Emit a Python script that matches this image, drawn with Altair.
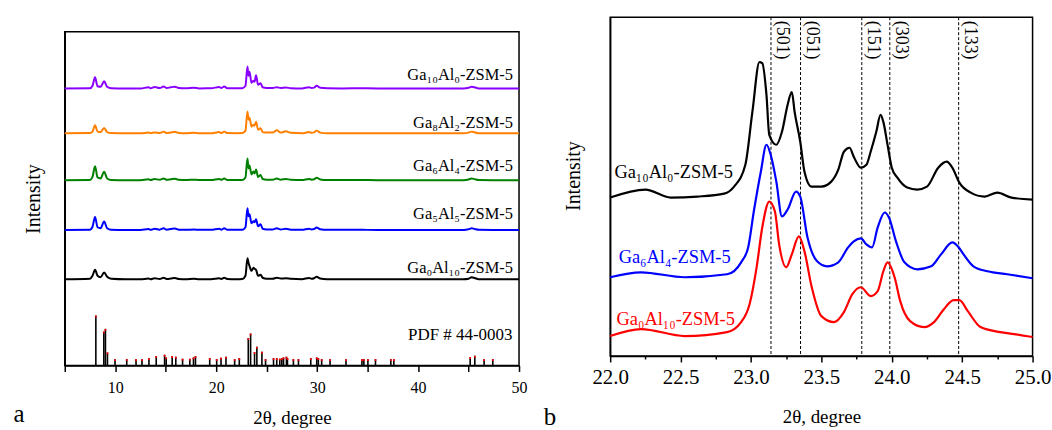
import altair as alt
import pandas as pd

FONT = "Liberation Serif"

# ---------------- panel a : full patterns ----------------
two_theta_a = [5.0, 7.5, 7.75, 8.0, 8.25, 8.55, 8.9, 9.2, 9.6, 11.0,
               12.5, 13.3, 13.5, 13.9, 14.4, 14.8, 15.1, 15.5, 15.9, 16.3,
               17.0, 17.8, 18.3, 19.5, 20.3, 20.5, 20.8, 21.1, 22.0, 22.6,
               22.9, 23.1, 23.2, 23.3, 23.5, 23.7, 23.8, 23.95, 24.15, 24.4,
               24.6, 25.0, 25.6, 26.0, 26.4, 26.9, 27.4, 28.5, 29.2, 29.45,
               29.7, 29.95, 30.3, 31.0, 32.5, 34.5, 36.0, 38.0, 41.0, 44.5,
               45.0, 45.3, 45.6, 46.0, 47.5, 50.0]

int_ga10al0 = [0.3, 0.5, 3.0, 11.5, 2.5, 2.0, 7.5, 2.0, 0.5, 0.3,
               0.3, 1.5, 0.5, 1.8, 0.8, 2.2, 0.8, 1.5, 2.0, 0.8,
               0.5, 1.0, 0.4, 0.5, 1.8, 0.8, 2.2, 0.6, 0.5, 0.6,
               3.0, 22.3, 13.0, 17.0, 6.0, 8.0, 7.0, 13.5, 4.0, 5.5,
               1.5, 0.8, 0.8, 1.5, 0.8, 1.2, 0.6, 0.4, 1.5, 0.8,
               1.2, 3.0, 1.0, 0.5, 0.4, 0.5, 0.4, 0.3, 0.3, 0.3,
               1.0, 2.0, 1.5, 0.4, 0.3, 0.3]
int_ga8al2 = [0.3, 0.5, 2.0, 8.3, 2.0, 1.5, 5.7, 1.5, 0.5, 0.3,
              0.3, 1.0, 0.4, 1.2, 0.6, 2.0, 0.6, 1.2, 1.8, 0.6,
              0.4, 0.8, 0.4, 0.4, 1.5, 0.6, 2.0, 0.5, 0.4, 0.5,
              3.0, 22.3, 14.0, 16.0, 7.0, 9.0, 8.0, 12.0, 4.0, 5.5,
              1.5, 1.0, 1.0, 3.3, 1.0, 2.3, 0.8, 0.4, 1.5, 0.8,
              1.2, 3.0, 1.0, 0.4, 0.4, 0.4, 0.3, 0.3, 0.3, 0.3,
              1.0, 2.0, 1.3, 0.4, 0.3, 0.3]
int_ga6al4 = [0.3, 0.5, 3.5, 14.3, 3.0, 2.0, 8.7, 2.0, 0.5, 0.3,
              0.3, 1.2, 0.4, 1.5, 0.6, 2.0, 0.6, 1.2, 1.8, 0.6,
              0.4, 0.8, 0.4, 0.4, 1.5, 0.6, 2.0, 0.5, 0.4, 0.5,
              3.0, 22.0, 12.0, 15.0, 6.0, 9.0, 7.0, 11.0, 3.5, 5.5,
              1.5, 0.8, 0.8, 2.0, 0.8, 1.5, 0.6, 0.4, 1.5, 0.8,
              1.2, 2.8, 1.0, 0.4, 0.4, 0.4, 0.3, 0.3, 0.3, 0.3,
              1.0, 2.0, 1.3, 0.4, 0.3, 0.3]
int_ga5al5 = [0.3, 0.5, 3.5, 13.3, 3.0, 2.0, 8.7, 2.0, 0.5, 0.3,
              0.3, 1.2, 0.4, 1.5, 0.6, 2.0, 0.6, 1.2, 1.8, 0.6,
              0.4, 0.8, 0.4, 0.4, 1.5, 0.6, 2.0, 0.5, 0.4, 0.5,
              3.0, 22.0, 14.0, 16.0, 7.0, 9.0, 8.0, 11.0, 4.0, 6.0,
              1.5, 0.8, 0.8, 2.0, 0.8, 1.5, 0.6, 0.4, 1.5, 0.8,
              1.2, 2.8, 1.0, 0.4, 0.4, 0.4, 0.3, 0.3, 0.3, 0.3,
              1.0, 2.0, 1.3, 0.4, 0.3, 0.3]
int_ga0al10 = [0.5, 1.0, 4.0, 10.0, 4.0, 2.5, 7.3, 3.0, 1.0, 0.5,
               0.5, 1.2, 0.6, 1.5, 0.8, 2.0, 0.8, 1.2, 1.8, 0.8,
               0.6, 1.0, 0.6, 0.6, 1.5, 0.8, 2.0, 0.8, 0.6, 0.8,
               4.0, 21.7, 17.0, 14.0, 9.0, 12.0, 11.0, 10.0, 4.0, 5.0,
               2.0, 1.0, 1.0, 2.0, 1.2, 1.5, 1.0, 0.6, 1.8, 1.0,
               1.5, 3.0, 1.2, 0.6, 0.5, 0.6, 0.5, 0.5, 0.5, 0.5,
               1.0, 2.5, 1.8, 0.6, 0.5, 0.5]

names_a = ["Ga₁₀Al₀-ZSM-5", "Ga₈Al₂-ZSM-5", "Ga₆Al₄-ZSM-5", "Ga₅Al₅-ZSM-5", "Ga₀Al₁₀-ZSM-5"]
series_a = [int_ga10al0, int_ga8al2, int_ga6al4, int_ga5al5, int_ga0al10]
offsets_a = [277.7, 232.7, 185.7, 135.7, 86.0]
label_y_a = [286.7, 238.3, 195.0, 146.7, 92.7]
colors_a = ["#8a00ff", "#ff8000", "#008000", "#0000ff", "#000000"]

pdf_2theta = [8.08, 8.87, 9.03, 9.23, 9.98, 11.14, 12.06, 12.65, 13.34, 14.06,
              14.89, 15.05, 15.64, 16.0, 16.67, 17.39, 17.75, 17.95, 19.36, 20.05,
              20.48, 20.97, 21.83, 22.29, 23.18, 23.41, 23.8, 24.03, 24.53, 24.89,
              25.68, 26.0, 26.3, 26.5, 26.67, 26.96, 27.06, 27.65, 28.15, 29.37,
              29.96, 30.12, 30.45, 31.28, 32.86, 34.44, 34.63, 35.03, 35.78, 37.3,
              37.6, 45.16, 45.62, 46.54, 47.4]
pdf_int = [50, 34, 36.7, 13, 6.3, 6.3, 6.3, 6.3, 7.3, 9.3,
           10.7, 8, 9.3, 8.7, 6.7, 6.7, 8, 9.3, 7.3, 6.3,
           7.7, 8.7, 6.3, 7.3, 27.3, 32, 13.3, 18.7, 13.7, 6.3,
           7.3, 7.3, 6.7, 7.3, 8, 8.7, 7.3, 6.3, 6.3, 7.3,
           8, 7.3, 6.3, 6.3, 6.3, 6.3, 6.3, 6.3, 6.3, 6.3,
           6.3, 8.3, 9.7, 6.3, 6.3]
pdf_label = "PDF # 44-0003"

# ---------------- panel b : 22-25 degree zoom ----------------
b_x_ga10al0 = [22.0, 22.25, 22.43, 22.62, 22.81, 22.88, 22.96, 23.01, 23.06, 23.08,
               23.11, 23.13, 23.18, 23.22, 23.26, 23.29, 23.31, 23.35, 23.38, 23.43,
               23.50, 23.57, 23.62, 23.66, 23.70, 23.73, 23.78, 23.82, 23.85, 23.89,
               23.92, 23.94, 23.97, 24.00, 24.04, 24.11, 24.18, 24.25, 24.33, 24.39,
               24.43, 24.48, 24.56, 24.66, 24.75, 24.85, 25.0]
b_y_ga10al0 = [159, 167, 159, 160, 163, 170, 192, 245, 295, 294,
               262, 222, 212, 225, 252, 265, 245, 215, 185, 170,
               170, 175, 187, 205, 209, 200, 189, 192, 205, 225,
               242, 235, 212, 189, 179, 169, 167, 170, 189, 195,
               189, 174, 164, 160, 164, 159, 157]
b_x_ga6al4 = [22.0, 22.22, 22.53, 22.83, 22.93, 22.98, 23.02, 23.07, 23.11, 23.14,
              23.18, 23.22, 23.26, 23.32, 23.35, 23.40, 23.47, 23.54, 23.62, 23.69,
              23.73, 23.78, 23.82, 23.86, 23.90, 23.95, 23.98, 24.03, 24.09, 24.18,
              24.28, 24.35, 24.43, 24.47, 24.51, 24.58, 24.68, 24.82, 25.0]
b_y_ga6al4 = [79, 84, 79, 82, 94, 109, 145, 185, 212, 202,
              175, 140, 147, 165, 160, 120, 95, 90, 94, 109,
              115, 118, 112, 109, 129, 144, 139, 115, 94, 87,
              90, 102, 114, 110, 102, 90, 85, 82, 78]
b_x_ga0al10 = [22.0, 22.22, 22.53, 22.83, 22.93, 22.99, 23.04, 23.08, 23.13, 23.17,
               23.20, 23.25, 23.29, 23.34, 23.38, 23.43, 23.50, 23.59, 23.66, 23.72,
               23.78, 23.85, 23.90, 23.94, 23.97, 24.02, 24.06, 24.13, 24.23, 24.30,
               24.37, 24.44, 24.48, 24.54, 24.63, 24.77, 24.87, 25.0]
b_y_ga0al10 = [20, 27, 20, 24, 34, 52, 89, 129, 155, 145,
               112, 89, 102, 120, 105, 70, 40, 34, 44, 62,
               69, 60, 65, 85, 94, 79, 55, 35, 29, 34,
               47, 56, 56, 45, 29, 24, 22, 19]

names_b = ["Ga₁₀Al₀-ZSM-5 ", "Ga₆Al₄-ZSM-5 ", "Ga₀Al₁₀-ZSM-5 "]
colors_b = ["#000000", "#0000ff", "#ff0000"]
label_x_b = [22.03, 22.06, 22.045]
label_y_b = [178.5, 93.5, 31.5]

hkl_pos = [23.142, 23.352, 23.787, 23.986, 24.475]
hkl_text = ["(501)", "(051)", "(151)", "(303)", "(133)"]
hkl_label_y = 336.5

# ---------------- build tables ----------------
rows = []
for name, ys, off in zip(names_a, series_a, offsets_a):
    for x, y in zip(two_theta_a, ys):
        rows.append({"x": x, "y": y + off, "sa": name})
df_a = pd.DataFrame(rows)
df_sticks = pd.DataFrame({"x": pdf_2theta, "y": [0] * len(pdf_2theta), "y2": pdf_int})
df_tips = pd.DataFrame({"x": pdf_2theta, "y": [v - 1.8 for v in pdf_int], "y2": pdf_int})
df_lab_a = pd.DataFrame({"x": [49.4] * len(names_a), "y": label_y_a, "t": names_a})
df_pdf = pd.DataFrame({"x": [49.35], "y": [25.7], "t": [pdf_label]})

rows = []
for name, xs, ys in zip(names_b, [b_x_ga10al0, b_x_ga6al4, b_x_ga0al10],
                        [b_y_ga10al0, b_y_ga6al4, b_y_ga0al10]):
    for x, y in zip(xs, ys):
        rows.append({"x": x, "y": y, "sb": name})
df_b = pd.DataFrame(rows)
df_lab_b = pd.DataFrame({"x": label_x_b, "y": label_y_b, "sb": names_b})
df_hkl = pd.DataFrame({"x": hkl_pos, "y": [hkl_label_y] * len(hkl_pos), "t": hkl_text})

# ---------------- panel a ----------------
WA, HA = 456, 335
xa = alt.X("x:Q", scale=alt.Scale(domain=[5, 50], nice=False, zero=False),
           axis=alt.Axis(title="2θ, degree", values=list(range(5, 51, 5)),
                         labelExpr="datum.value % 10 == 0 ? datum.label : ''",
                         labelFlush=False, tickSize=6, labelPadding=8,
                         labelFontSize=16, titleFontSize=19, titlePadding=13))
ya = alt.Y("y:Q", scale=alt.Scale(domain=[0, HA], nice=False),
           axis=alt.Axis(title="Intensity", labels=False, ticks=False,
                         titleFontSize=20, titlePadding=21))

lines_a = alt.Chart(df_a).mark_line(strokeWidth=2, interpolate="monotone").encode(
    x=xa, y=ya,
    color=alt.Color("sa:N", scale=alt.Scale(domain=names_a, range=colors_a), legend=None),
    detail="sa:N")
sticks = alt.Chart(df_sticks).mark_rule(color="black", strokeWidth=1.6).encode(
    x=xa, y=ya, y2="y2:Q")
tips = alt.Chart(df_tips).mark_rule(color="#ff0000", strokeWidth=1.8).encode(
    x=xa, y=ya, y2="y2:Q")
labels_a = alt.Chart(df_lab_a).mark_text(font=FONT, fontSize=16.5, align="right",
                                         baseline="alphabetic", color="black").encode(
    x=xa, y=ya, text="t:N")
pdf_txt = alt.Chart(df_pdf).mark_text(font=FONT, fontSize=17, align="right",
                                      baseline="alphabetic", color="black").encode(
    x=xa, y=ya, text="t:N")
tag_a = alt.Chart(df_pdf).mark_text(text="a", font=FONT, fontSize=25, align="left",
                                    baseline="alphabetic", color="black").encode(
    x=alt.value(-51.5), y=alt.value(392))

panel_a = alt.layer(lines_a, sticks, tips, labels_a, pdf_txt, tag_a).properties(
    width=WA, height=HA)

# invisible spacer that pushes panel a down relative to panel b
spacer = alt.Chart(df_pdf).mark_point(opacity=0).encode(
    x=alt.value(0), y=alt.value(0)).properties(
    width=1, height=1, view=alt.ViewBackground(stroke="transparent"))

left = alt.vconcat(spacer, panel_a, spacing=9.5)

# ---------------- panel b ----------------
WB, HB = 424, 340
xb = alt.X("x:Q", scale=alt.Scale(domain=[22, 25], nice=False, zero=False),
           axis=alt.Axis(title="2θ, degree", values=[22 + 0.25 * i for i in range(13)],
                         labelExpr="round(datum.value * 2) == datum.value * 2 ? format(datum.value, '.1f') : ''",
                         tickSize={"condition": {"test": "round(datum.value * 2) == datum.value * 2", "value": 6}, "value": 3},
                         labelFlush=False, labelPadding=5,
                         labelFontSize=21, titleFontSize=19, titlePadding=20))
yb = alt.Y("y:Q", scale=alt.Scale(domain=[0, HB], nice=False),
           axis=alt.Axis(title="Intensity", labels=False, ticks=False,
                         titleFontSize=20, titlePadding=27, titleY=159))

dash = alt.Chart(df_hkl).mark_rule(color="black", strokeWidth=1, strokeDash=[3, 2]).encode(x=xb)
lines_b = alt.Chart(df_b).mark_line(strokeWidth=2.2, interpolate="monotone").encode(
    x=xb, y=yb,
    color=alt.Color("sb:N", scale=alt.Scale(domain=names_b, range=colors_b), legend=None),
    detail="sb:N")
hkl = alt.Chart(df_hkl).mark_text(font=FONT, fontSize=18, angle=90, align="left",
                                  baseline="middle", dy=-11, color="black").encode(
    x=xb, y=yb, text="t:N")
labels_b = alt.Chart(df_lab_b).mark_text(font=FONT, fontSize=18.5, align="left",
                                         baseline="alphabetic").encode(
    x=xb, y=yb, text="sb:N",
    color=alt.Color("sb:N", scale=alt.Scale(domain=names_b, range=colors_b), legend=None))
tag_b = alt.Chart(df_pdf).mark_text(text="b", font=FONT, fontSize=25, align="left",
                                    baseline="alphabetic", color="black").encode(
    x=alt.value(-66.7), y=alt.value(409.5))

panel_b = alt.layer(dash, lines_b, hkl, labels_b, tag_b).properties(width=WB, height=HB)

chart = alt.hconcat(left, panel_b, spacing=14.5).resolve_scale(
    color="independent"
).properties(
    padding={"left": 12, "top": 12.5, "right": 0, "bottom": 0}
).configure_view(stroke="black", strokeWidth=1.5).configure_axis(
    grid=False, domainColor="black", domainWidth=1.5, tickColor="black", tickWidth=1.5,
    labelColor="black", titleColor="black", labelFont=FONT, titleFont=FONT,
    titleFontWeight="normal"
)

chart.save("out.html", embed_options={"renderer": "svg", "actions": False})
